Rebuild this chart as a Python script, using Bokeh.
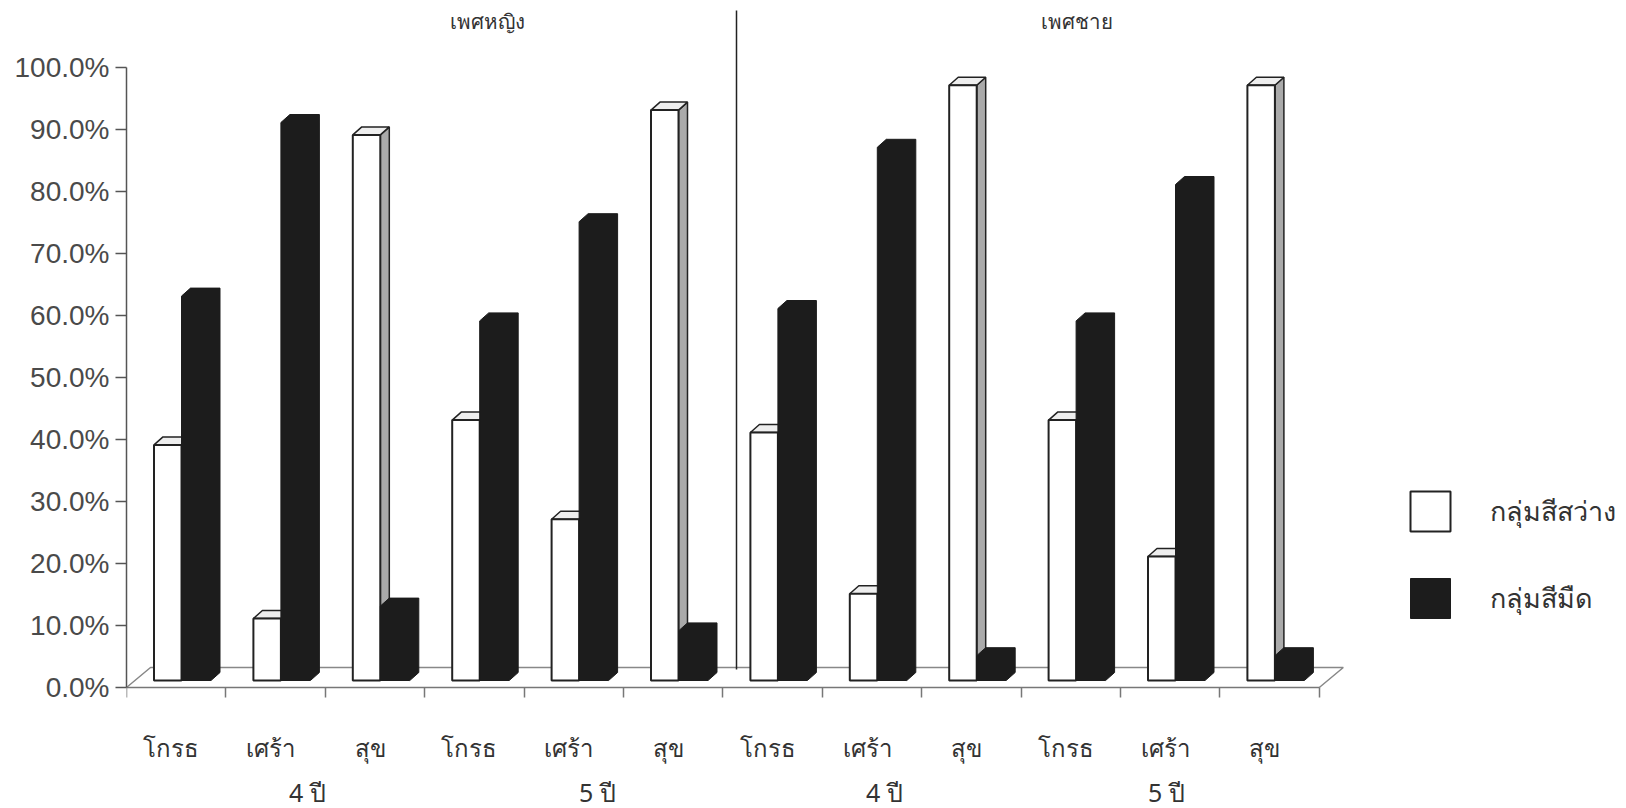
from bokeh.plotting import figure
from bokeh.models import FixedTicker, LinearAxis, Legend, LegendItem, Range1d
from bokeh.core.properties import value
from bokeh.embed import file_html
from bokeh.resources import INLINE

emotions = ["โกรธ", "เศร้า", "สุข"] * 4
light_group = [38, 10, 88, 42, 26, 92, 40, 14, 96, 42, 20, 96]
dark_group = [62, 90, 12, 58, 74, 8, 60, 86, 4, 58, 80, 4]
y_ticks = [0, 10, 20, 30, 40, 50, 60, 70, 80, 90, 100]
y_tick_labels = ["0.0%", "10.0%", "20.0%", "30.0%", "40.0%", "50.0%", "60.0%", "70.0%", "80.0%", "90.0%", "100.0%"]
year_labels = ["4 ปี", "5 ปี", "4 ปี", "5 ปี"]
gender_labels = ["เพศหญิง", "เพศชาย"]
legend_labels = ["กลุ่มสีสว่าง", "กลุ่มสีมืด"]

THAI = "Noto Sans"
LATIN = "Liberation Sans"
INK = "#333333"

# pixel geometry of the frame
PW, PH = 1626, 808
AX_LEFT, AX_ZERO = 126, 687     # picture pixels of the origin
XU, YU = 99.4, 6.2              # px per category, px per percent
F_TOP, F_BOTTOM = 0, PH
F_LEFT, F_RIGHT = AX_LEFT, PW


def X(px):
    return (px - AX_LEFT) / XU


def Y(py):
    return (AX_ZERO - py) / YU


DX, DY = 9 / XU, 8 / YU          # bar depth
BASE = 7 / YU                    # bar floor offset
W_L, W_R = 27.5 / XU, 55 / XU    # light bar
D_R = 84.5 / XU                  # dark bar right edge

p = figure(width=PW, height=PH, output_backend="svg", toolbar_location=None,
           x_axis_type=None, y_axis_type=None,
           x_range=Range1d(0, (F_RIGHT - AX_LEFT) / XU),
           y_range=Range1d(Y(F_BOTTOM), Y(F_TOP)),
           min_border_left=AX_LEFT, min_border_right=0, min_border_top=0, min_border_bottom=0)
p.grid.visible = False
p.outline_line_color = None
p.background_fill_color = "white"
p.border_fill_color = "white"

# axes
yax = LinearAxis(ticker=FixedTicker(ticks=y_ticks),
                 major_label_overrides={t: s for t, s in zip(y_ticks, y_tick_labels)},
                 bounds=(0, 100), axis_line_color="#555555", axis_line_width=1.5,
                 major_tick_line_color="#555555", major_tick_line_width=1.5,
                 major_tick_out=11, major_tick_in=0, minor_tick_out=0, minor_tick_in=0,
                 major_label_text_font=LATIN, major_label_text_font_size="28px",
                 major_label_text_color="#4a4a4a", major_label_standoff=6)
p.add_layout(yax, "left")

xax = LinearAxis(ticker=FixedTicker(ticks=list(range(13))), fixed_location=0, bounds=(0, 12),
                 major_label_overrides={i: "" for i in range(13)},
                 axis_line_color="#777777", axis_line_width=1.5,
                 major_tick_line_color="#777777", major_tick_line_width=1.5,
                 major_tick_out=10, major_tick_in=0, minor_tick_out=0, minor_tick_in=0)
p.add_layout(xax, "below")

# floor
fx, fy = 24 / XU, 20 / YU
p.line([0, fx, 12 + fx, 12], [0, fy, fy, 0], line_color="#888888", line_width=1.5)

# bars
n = len(light_group)
lf_xs, lf_ys, lt_xs, lt_ys, ls_xs, ls_ys = [], [], [], [], [], []
for i, v in enumerate(light_group):
    l, r, t, b = i + W_L, i + W_R, v + BASE, BASE
    lf_xs.append([l, r, r, l]); lf_ys.append([b, b, t, t])
    lt_xs.append([l, r, r + DX, l + DX]); lt_ys.append([t, t, t + DY, t + DY])
    ls_xs.append([r, r + DX, r + DX, r]); ls_ys.append([b, b + DY, t + DY, t])

p.patches(ls_xs, ls_ys, fill_color="#aaaaaa", line_color="#222222", line_width=1.5)
p.patches(lt_xs, lt_ys, fill_color="#eeeeee", line_color="#222222", line_width=1.5)
r_light = p.patches(lf_xs, lf_ys, fill_color="white", line_color="#222222", line_width=2)

d_xs, d_ys = [], []
for i, v in enumerate(dark_group):
    l, r, t, b = i + W_R, i + D_R, v + BASE, BASE
    d_xs.append([l, r, r + DX, r + DX, l + DX, l])
    d_ys.append([b, b, b + DY, t + DY, t + DY, t])
r_dark = p.patches(d_xs, d_ys, fill_color="#1c1c1c", line_color="#1c1c1c", line_width=1)

# divider
p.line([X(736), X(736)], [Y(669), Y(10)], line_color="#222222", line_width=1.5)

# category labels
p.text([i + 0.45 for i in range(n)], [Y(747)] * n, text=emotions,
       text_font=value(THAI), text_font_size="24px", text_color=INK,
       text_align="center", text_baseline="middle")
p.text([X(v) for v in (307, 597, 884, 1166)], [Y(791)] * 4, text=year_labels,
       text_font=value(THAI), text_font_size="25px", text_color=INK,
       text_align="center", text_baseline="middle")
p.text([X(487), X(1076)], [Y(20)] * 2, text=gender_labels,
       text_font=value(THAI), text_font_size="20.5px", text_color=INK,
       text_align="center", text_baseline="middle")

# legend
leg = Legend(items=[LegendItem(label=legend_labels[0], renderers=[r_light]),
                    LegendItem(label=legend_labels[1], renderers=[r_dark])],
             location=(1405 - AX_LEFT, F_BOTTOM - 623), glyph_width=50, glyph_height=50,
             spacing=37, label_standoff=35, padding=0, margin=0, border_line_color=None,
             background_fill_alpha=0, label_text_font=THAI, label_text_font_size="27px",
             label_text_color=INK, label_height=50)
p.add_layout(leg, "center")

open("out.html", "w").write(file_html(p, INLINE))
